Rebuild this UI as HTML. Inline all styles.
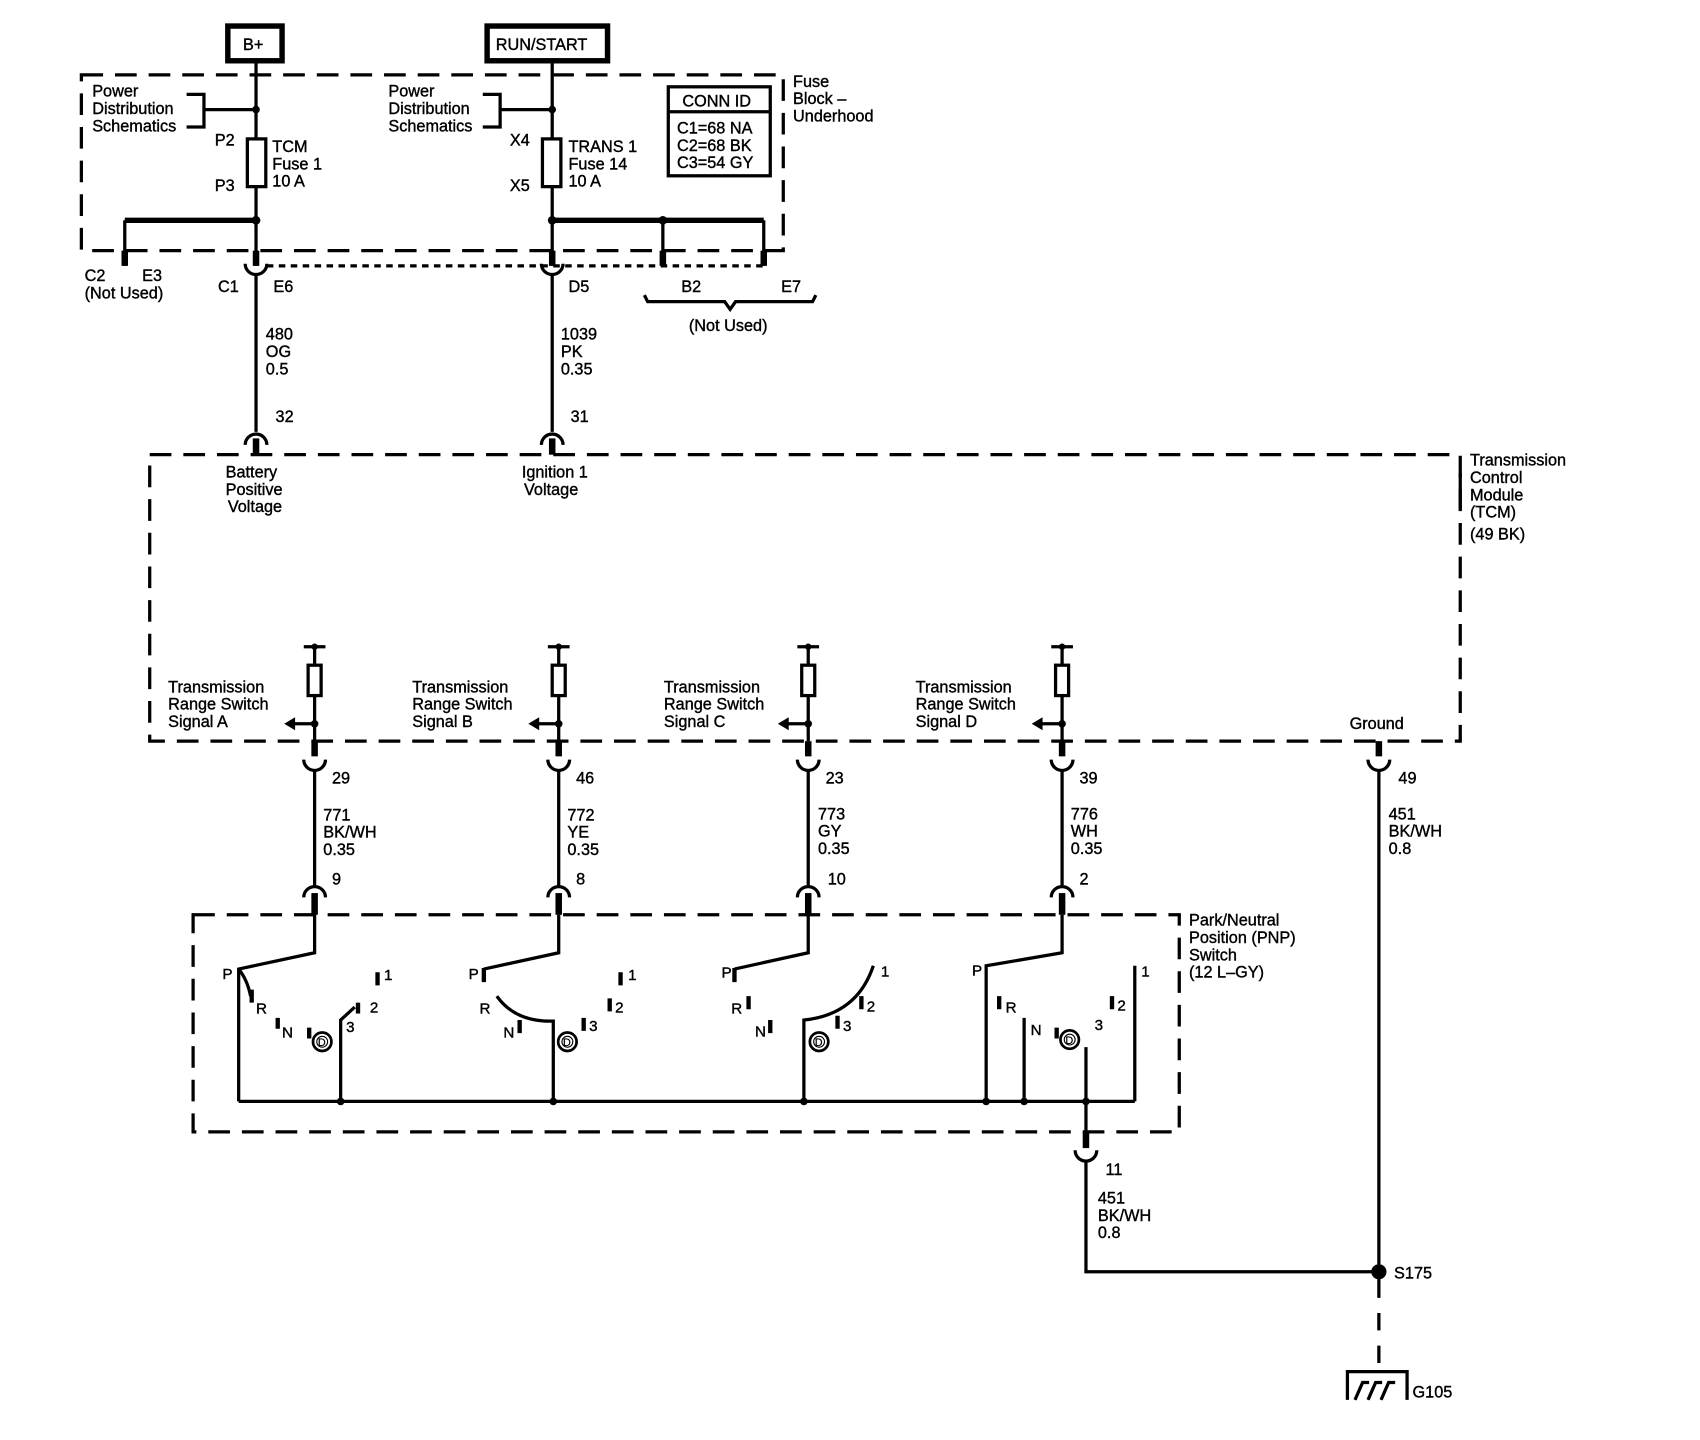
<!DOCTYPE html>
<html><head><meta charset="utf-8"><style>
html,body{margin:0;padding:0;background:#fff;}
svg{display:block;}
text{font-family:"Liberation Sans",Arial,sans-serif;font-size:15px;fill:#000;stroke:#000;stroke-width:0.35px;}
</style></head><body>
<svg width="1700" height="1440" viewBox="0 0 1567 1327" preserveAspectRatio="none" xmlns="http://www.w3.org/2000/svg">
<g fill="none" stroke="#000" stroke-width="3">
<rect x="210" y="24" width="50" height="32" stroke-width="5"/>
<rect x="449" y="24" width="111" height="32" stroke-width="5"/>
<rect x="75" y="69" width="647" height="162" stroke-dasharray="20,11"/>
<line x1="236" y1="57" x2="236" y2="245"/>
<path d="M172,87 H188 V117 H172"/>
<line x1="188" y1="101" x2="236" y2="101"/>
<rect x="228" y="128" width="17" height="44" fill="#fff"/>
<line x1="115" y1="203" x2="236" y2="203" stroke-width="5"/>
<line x1="115" y1="203" x2="115" y2="245" stroke-width="3"/>
<line x1="115" y1="231" x2="115" y2="245" stroke-width="6"/>
<line x1="236" y1="231" x2="236" y2="245" stroke-width="6"/>
<line x1="509" y1="57" x2="509" y2="245"/>
<path d="M445,87 H461 V117 H445"/>
<line x1="461" y1="101" x2="509" y2="101"/>
<rect x="500" y="128" width="17" height="44" fill="#fff"/>
<line x1="509" y1="203" x2="704" y2="203" stroke-width="5"/>
<line x1="611" y1="203" x2="611" y2="245"/>
<line x1="704" y1="203" x2="704" y2="245"/>
<line x1="611" y1="231" x2="611" y2="245" stroke-width="6"/>
<line x1="704" y1="231" x2="704" y2="245" stroke-width="6"/>
<line x1="509" y1="231" x2="509" y2="245" stroke-width="6"/>
<line x1="246" y1="245" x2="703" y2="245" stroke-dasharray="6,5"/>
<path d="M226,243 A10,10 0 0 0 246,243"/>
<path d="M499,243 A10,10 0 0 0 519,243"/>
<line x1="236" y1="253" x2="236" y2="398"/>
<line x1="509" y1="253" x2="509" y2="398"/>
<path d="M226,410 A10,10 0 0 1 246,410"/>
<path d="M499,410 A10,10 0 0 1 519,410"/>
<line x1="236" y1="404" x2="236" y2="419" stroke-width="6"/>
<line x1="509" y1="404" x2="509" y2="419" stroke-width="6"/>
<path d="M594,272 L597,278 H668 L673,285 L678,278 H749 L752,272"/>
<rect x="616" y="80" width="94" height="82" stroke-width="3"/>
<line x1="616" y1="103" x2="710" y2="103"/>
<rect x="138" y="419" width="1208" height="264" stroke-dasharray="20,11"/>
<rect x="178" y="843" width="909" height="200" stroke-dasharray="20,11"/>
</g>
<g fill="#000">
<circle cx="236" cy="101" r="3.5"/><circle cx="509" cy="101" r="3.5"/>
<circle cx="236" cy="203" r="4"/><circle cx="509" cy="203" r="4"/><circle cx="611" cy="203" r="4"/>
<circle cx="1271" cy="1172" r="7"/>
</g>
<g fill="none" stroke="#000" stroke-width="3">
<path d="M280,596 H300 M290,596 V683"/><rect x="284" y="613" width="12" height="28" fill="#fff"/>
<path d="M290,667 H270"/><line x1="290" y1="683" x2="290" y2="697" stroke-width="6"/>
<path d="M280,700 A10,10 0 0 0 300,700"/><line x1="290" y1="709" x2="290" y2="818"/>
<path d="M280,827 A10,10 0 0 1 300,827"/><line x1="290" y1="823" x2="290" y2="843" stroke-width="6"/>
<path d="M505,596 H525 M515,596 V683"/><rect x="509" y="613" width="12" height="28" fill="#fff"/>
<path d="M515,667 H495"/><line x1="515" y1="683" x2="515" y2="697" stroke-width="6"/>
<path d="M505,700 A10,10 0 0 0 525,700"/><line x1="515" y1="709" x2="515" y2="818"/>
<path d="M505,827 A10,10 0 0 1 525,827"/><line x1="515" y1="823" x2="515" y2="843" stroke-width="6"/>
<path d="M735,596 H755 M745,596 V683"/><rect x="739" y="613" width="12" height="28" fill="#fff"/>
<path d="M745,667 H725"/><line x1="745" y1="683" x2="745" y2="697" stroke-width="6"/>
<path d="M735,700 A10,10 0 0 0 755,700"/><line x1="745" y1="709" x2="745" y2="818"/>
<path d="M735,827 A10,10 0 0 1 755,827"/><line x1="745" y1="823" x2="745" y2="843" stroke-width="6"/>
<path d="M969,596 H989 M979,596 V683"/><rect x="973" y="613" width="12" height="28" fill="#fff"/>
<path d="M979,667 H959"/><line x1="979" y1="683" x2="979" y2="697" stroke-width="6"/>
<path d="M969,700 A10,10 0 0 0 989,700"/><line x1="979" y1="709" x2="979" y2="818"/>
<path d="M969,827 A10,10 0 0 1 989,827"/><line x1="979" y1="823" x2="979" y2="843" stroke-width="6"/>
<line x1="1271" y1="683" x2="1271" y2="697" stroke-width="6"/>
<path d="M1261,700 A10,10 0 0 0 1281,700"/><line x1="1271" y1="709" x2="1271" y2="1180"/>
<line x1="1271" y1="1180" x2="1271" y2="1262" stroke-dasharray="16,14"/>
<path d="M1242,1290 V1264 H1297 V1290"/>
<path d="M1249,1290 L1256,1274 H1262 M1261,1290 L1268,1274 H1274 M1273,1290 L1280,1274 H1286" stroke-width="3"/>
<line x1="1001" y1="1015" x2="1001" y2="1043"/>
<line x1="1001" y1="1043" x2="1001" y2="1058" stroke-width="6"/>
<path d="M991,1060 A10,10 0 0 0 1011,1060"/>
<path d="M1001,1069 V1172 H1271"/>
<line x1="220" y1="1015" x2="1046" y2="1015"/>
<path d="M290,843 V878 L220,893 V1015"/>
<path d="M220,893 Q228,903 231,918"/>
<path d="M232,912 V924 M256,938 V948 M285,947 V957 M348,896 V908" stroke-width="4"/>
<path d="M314,1015 V940 L327,928" />
<path d="M330,924 V934" stroke-width="4"/>
<path d="M515,843 V878 L446,893"/>
<path d="M446,892 V905 M572,896 V908 M562,920 V932 M538,938 V950 M479,940 V952" stroke-width="4"/>
<path d="M458,918 Q475,942 510,941 V1015"/>
<path d="M745,843 V878 L677,893"/>
<path d="M677,892 V905 M690,918 V930 M710,940 V952 M772,936 V948 M794,918 V930" stroke-width="4"/>
<path d="M741,1015 V940 Q790,935 805,890"/>
<path d="M979,843 V878 L909,890 V1015"/>
<path d="M921,918 V930 M974,947 V957 M1025,918 V930" stroke-width="4"/>
<path d="M944,938 V1015 M1001,965 V1015 M1046,890 V1015"/>
</g>
<g fill="none" stroke="#000">
<circle cx="297" cy="960" r="8.5" stroke-width="2.5"/><circle cx="297" cy="960" r="5" stroke-width="1"/>
<circle cx="523" cy="960" r="8.5" stroke-width="2.5"/><circle cx="523" cy="960" r="5" stroke-width="1"/>
<circle cx="755" cy="960" r="8.5" stroke-width="2.5"/><circle cx="755" cy="960" r="5" stroke-width="1"/>
<circle cx="986" cy="958" r="8.5" stroke-width="2.5"/><circle cx="986" cy="958" r="5" stroke-width="1"/>
</g>
<g fill="#000">
<path d="M262,667 L272,661 V673 Z"/><path d="M487,667 L497,661 V673 Z"/>
<path d="M717,667 L727,661 V673 Z"/><path d="M951,667 L961,661 V673 Z"/>
<circle cx="290" cy="596" r="3"/><circle cx="515" cy="596" r="3"/><circle cx="745" cy="596" r="3"/><circle cx="979" cy="596" r="3"/>
<circle cx="290" cy="667" r="3.5"/><circle cx="515" cy="667" r="3.5"/><circle cx="745" cy="667" r="3.5"/><circle cx="979" cy="667" r="3.5"/>
<circle cx="314" cy="1015" r="3.5"/><circle cx="510" cy="1015" r="3.5"/><circle cx="741" cy="1015" r="3.5"/>
<circle cx="909" cy="1015" r="3.5"/><circle cx="944" cy="1015" r="3.5"/><circle cx="1001" cy="1015" r="3.5"/>
</g>
<text x="293" y="964" style="font-size:10px;stroke-width:0.2px">D</text><text x="519" y="964" style="font-size:10px;stroke-width:0.2px">D</text><text x="751" y="964" style="font-size:10px;stroke-width:0.2px">D</text><text x="982" y="962" style="font-size:10px;stroke-width:0.2px">D</text>

<text x="224" y="46">B+</text>
<text x="457" y="46">RUN/START</text>
<text x="85" y="89">Power</text><text x="85" y="105">Distribution</text><text x="85" y="121">Schematics</text>
<text x="358" y="89">Power</text><text x="358" y="105">Distribution</text><text x="358" y="121">Schematics</text>
<text x="198" y="134">P2</text><text x="198" y="176">P3</text>
<text x="251" y="140">TCM</text><text x="251" y="156">Fuse 1</text><text x="251" y="172">10 A</text>
<text x="470" y="134">X4</text><text x="470" y="176">X5</text>
<text x="524" y="140">TRANS 1</text><text x="524" y="156">Fuse 14</text><text x="524" y="172">10 A</text>
<text x="629" y="98">CONN ID</text>
<text x="624" y="123">C1=68 NA</text><text x="624" y="139">C2=68 BK</text><text x="624" y="155">C3=54 GY</text>
<text x="731" y="80">Fuse</text><text x="731" y="96">Block –</text><text x="731" y="112">Underhood</text>
<text x="78" y="259">C2</text><text x="131" y="259">E3</text><text x="78" y="275">(Not Used)</text>
<text x="201" y="269">C1</text><text x="252" y="269">E6</text>
<text x="524" y="269">D5</text><text x="628" y="269">B2</text><text x="720" y="269">E7</text>
<text x="635" y="305">(Not Used)</text>
<text x="245" y="313">480</text><text x="245" y="329">OG</text><text x="245" y="345">0.5</text>
<text x="517" y="313">1039</text><text x="517" y="329">PK</text><text x="517" y="345">0.35</text>
<text x="254" y="389">32</text><text x="526" y="389">31</text>
<text x="208" y="440">Battery</text><text x="208" y="456">Positive</text><text x="210" y="472">Voltage</text>
<text x="481" y="440">Ignition 1</text><text x="483" y="456">Voltage</text>
<text x="1355" y="429">Transmission</text><text x="1355" y="445">Control</text><text x="1355" y="461">Module</text><text x="1355" y="477">(TCM)</text><text x="1355" y="497">(49 BK)</text>
<line x1="1346" y1="436" x2="1346" y2="470" stroke="#000" stroke-width="3"/>
<text x="155" y="638">Transmission</text><text x="155" y="654">Range Switch</text><text x="155" y="670">Signal A</text>
<text x="380" y="638">Transmission</text><text x="380" y="654">Range Switch</text><text x="380" y="670">Signal B</text>
<text x="612" y="638">Transmission</text><text x="612" y="654">Range Switch</text><text x="612" y="670">Signal C</text>
<text x="844" y="638">Transmission</text><text x="844" y="654">Range Switch</text><text x="844" y="670">Signal D</text>
<text x="1244" y="672">Ground</text>
<text x="306" y="722">29</text><text x="531" y="722">46</text><text x="761" y="722">23</text><text x="995" y="722">39</text><text x="1289" y="722">49</text>
<text x="298" y="756">771</text><text x="298" y="772">BK/WH</text><text x="298" y="788">0.35</text>
<text x="523" y="756">772</text><text x="523" y="772">YE</text><text x="523" y="788">0.35</text>
<text x="754" y="755">773</text><text x="754" y="771">GY</text><text x="754" y="787">0.35</text>
<text x="987" y="755">776</text><text x="987" y="771">WH</text><text x="987" y="787">0.35</text>
<text x="1280" y="755">451</text><text x="1280" y="771">BK/WH</text><text x="1280" y="787">0.8</text>
<text x="306" y="815">9</text><text x="531" y="815">8</text><text x="763" y="815">10</text><text x="995" y="815">2</text>
<text x="1096" y="853">Park/Neutral</text><text x="1096" y="869">Position (PNP)</text><text x="1096" y="885">Switch</text><text x="1096" y="901">(12 L–GY)</text>
<text x="205" y="902" style="font-size:14px">P</text><text x="236" y="934" style="font-size:14px">R</text><text x="260" y="956" style="font-size:14px">N</text>
<text x="319" y="951" style="font-size:14px">3</text><text x="341" y="933" style="font-size:14px">2</text><text x="354" y="903" style="font-size:14px">1</text>
<text x="432" y="902" style="font-size:14px">P</text><text x="442" y="934" style="font-size:14px">R</text><text x="464" y="956" style="font-size:14px">N</text>
<text x="543" y="950" style="font-size:14px">3</text><text x="567" y="933" style="font-size:14px">2</text><text x="579" y="903" style="font-size:14px">1</text>
<text x="665" y="901" style="font-size:14px">P</text><text x="674" y="934" style="font-size:14px">R</text><text x="696" y="955" style="font-size:14px">N</text>
<text x="777" y="950" style="font-size:14px">3</text><text x="799" y="932" style="font-size:14px">2</text><text x="812" y="900" style="font-size:14px">1</text>
<text x="896" y="899" style="font-size:14px">P</text><text x="927" y="933" style="font-size:14px">R</text><text x="950" y="954" style="font-size:14px">N</text>
<text x="1009" y="949" style="font-size:14px">3</text><text x="1030" y="931" style="font-size:14px">2</text><text x="1052" y="900" style="font-size:14px">1</text>
<text x="1019" y="1083">11</text>
<text x="1012" y="1109">451</text><text x="1012" y="1125">BK/WH</text><text x="1012" y="1141">0.8</text>
<text x="1285" y="1178">S175</text>
<text x="1302" y="1288">G105</text>
</svg>
</body></html>
